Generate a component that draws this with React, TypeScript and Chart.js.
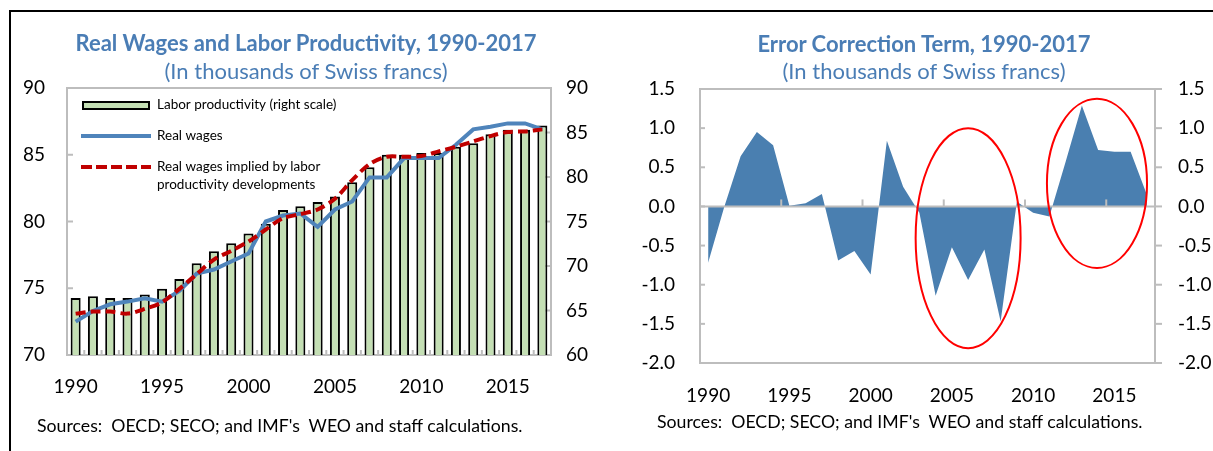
import React, { useEffect, useRef } from "react";
import { Chart, registerables } from "chart.js";

Chart.register(...registerables);

// ---------- data ----------
const YEARS = [
  "1990", "1991", "1992", "1993", "1994", "1995", "1996", "1997", "1998", "1999",
  "2000", "2001", "2002", "2003", "2004", "2005", "2006", "2007", "2008", "2009",
  "2010", "2011", "2012", "2013", "2014", "2015", "2016", "2017",
];
const X_TICK_LABELS = ["1990", "1995", "2000", "2005", "2010", "2015"];

// Left chart
const LABOR_PRODUCTIVITY = [
  66.4, 66.6, 66.4, 66.4, 66.8, 67.45, 68.55, 70.3, 71.65, 72.55,
  73.65, 74.75, 76.3, 76.7, 77.2, 77.8, 79.4, 81.1, 82.5, 82.5,
  82.7, 82.7, 83.4, 83.8, 84.8, 85.3, 85.3, 85.8,
];
const REAL_WAGES = [
  72.5, 73.3, 73.8, 74.0, 74.25, 74.0, 74.8, 76.1, 76.4, 77.0,
  77.6, 80.0, 80.45, 80.6, 79.6, 80.9, 81.5, 83.3, 83.3, 84.75,
  84.75, 84.75, 85.75, 86.9, 87.1, 87.35, 87.35, 86.9,
];
const IMPLIED_WAGES = [
  73.1, 73.25, 73.25, 73.1, 73.45, 73.95, 74.95, 76.05, 77.15, 77.8,
  78.5, 79.4, 80.25, 80.55, 80.9, 81.7, 83.1, 84.3, 84.85, 84.85,
  84.9, 85.25, 85.6, 86.0, 86.4, 86.7, 86.75, 86.9,
];
const LEFT_Y_TICKS = [70, 75, 80, 85, 90];
const RIGHT_Y_TICKS = [60, 65, 70, 75, 80, 85, 90];

// Right chart
const ERROR_TERM = [
  -0.72, 0.0, 0.64, 0.95, 0.78, 0.01, 0.04, 0.16, -0.69, -0.57,
  -0.87, 0.84, 0.25, -0.08, -1.14, -0.52, -0.94, -0.55, -1.47, 0.06,
  -0.08, -0.13, 0.57, 1.29, 0.72, 0.7, 0.7, 0.15,
];
const ERROR_Y_TICKS = [-2.0, -1.5, -1.0, -0.5, 0.0, 0.5, 1.0, 1.5];
// highlight ellipses (centre year, centre value, radius in years, radius in value)
const ELLIPSES = [
  { year: 2006.0, value: -0.405, rYears: 3.23, rValue: 1.405 },
  { year: 2013.93, value: 0.294, rYears: 3.08, rValue: 1.08 },
];

// ---------- styles ----------
const FONT = "Lato, 'Open Sans', sans-serif";
const GRAY = "#bdbdbd";
const TITLE_BLUE = "#4a7db5";
const GREEN = "#c4dfb4";
const LINE_BLUE = "#4f84bb";
const DASH_RED = "#c00000";
const AREA_BLUE = "#4a7fb0";

const LABELS_LEGEND = {
  bars: "Labor productivity (right scale)",
  wages: "Real wages",
  implied: ["Real wages implied by labor", "productivity developments"],
};

function setTicks(values: number[]) {
  return (scale: any) => {
    scale.ticks = values.map((v) => ({ value: v }));
  };
}

const tickFont = { family: FONT, size: 19 };

export default function App() {
  const leftRef = useRef<HTMLCanvasElement>(null);
  const rightRef = useRef<HTMLCanvasElement>(null);

  useEffect(() => {
    const leftFrame = {
      id: "leftFrame",
      beforeDatasetsDraw(chart: any) {
        const { ctx, chartArea: a } = chart;
        ctx.save();
        ctx.strokeStyle = GRAY;
        ctx.lineWidth = 2;
        ctx.strokeRect(a.left, a.top, a.right - a.left, a.bottom - a.top);
        // y ticks inside
        const yl = chart.scales.y;
        LEFT_Y_TICKS.forEach((v) => {
          const p = yl.getPixelForValue(v);
          ctx.beginPath();
          ctx.moveTo(a.left, p);
          ctx.lineTo(a.left + 6, p);
          ctx.stroke();
        });
        const yr = chart.scales.y2;
        RIGHT_Y_TICKS.forEach((v) => {
          const p = yr.getPixelForValue(v);
          ctx.beginPath();
          ctx.moveTo(a.right, p);
          ctx.lineTo(a.right - 7, p);
          ctx.stroke();
        });
        // x ticks between categories
        const xs = chart.scales.x;
        for (let i = 1; i < YEARS.length; i++) {
          const p = xs.getPixelForValue(i - 0.5);
          ctx.beginPath();
          ctx.moveTo(p, a.bottom);
          ctx.lineTo(p, a.bottom - 5);
          ctx.stroke();
        }
        ctx.restore();
      },
      afterDraw(chart: any) {
        const { ctx } = chart;
        ctx.save();
        // bar swatch
        ctx.fillStyle = GREEN;
        ctx.fillRect(83, 102, 66, 7);
        ctx.strokeStyle = "#000";
        ctx.lineWidth = 2;
        ctx.strokeRect(83, 102, 66, 7);
        // blue line
        ctx.strokeStyle = LINE_BLUE;
        ctx.lineWidth = 4;
        ctx.beginPath();
        ctx.moveTo(81, 136);
        ctx.lineTo(151, 136);
        ctx.stroke();
        // red dashed
        ctx.strokeStyle = DASH_RED;
        ctx.setLineDash([11, 4]);
        ctx.beginPath();
        ctx.moveTo(81, 167);
        ctx.lineTo(151, 167);
        ctx.stroke();
        ctx.setLineDash([]);
        ctx.fillStyle = "#000";
        ctx.font = `13.5px ${FONT}`;
        ctx.textBaseline = "middle";
        ctx.textAlign = "left";
        ctx.fillText(LABELS_LEGEND.bars, 157, 105);
        ctx.fillText(LABELS_LEGEND.wages, 157, 136);
        ctx.fillText(LABELS_LEGEND.implied[0], 157, 167);
        ctx.fillText(LABELS_LEGEND.implied[1], 157, 185);
        ctx.restore();
      },
    };

    const c1 = new Chart(leftRef.current as HTMLCanvasElement, {
      type: "bar",
      data: {
        labels: YEARS,
        datasets: [
          {
            type: "line",
            label: "Real wages implied by labor productivity developments",
            data: IMPLIED_WAGES,
            yAxisID: "y",
            borderColor: DASH_RED,
            borderWidth: 4,
            borderDash: [10, 5],
            pointRadius: 0,
            tension: 0.3,
            fill: false,
            order: 0,
          } as any,
          {
            type: "line",
            label: "Real wages",
            data: REAL_WAGES,
            yAxisID: "y",
            borderColor: LINE_BLUE,
            borderWidth: 4,
            pointRadius: 0,
            tension: 0,
            fill: false,
            order: 1,
          } as any,
          {
            type: "bar",
            label: "Labor productivity (right scale)",
            data: LABOR_PRODUCTIVITY,
            yAxisID: "y2",
            backgroundColor: GREEN,
            borderColor: "#000",
            borderWidth: 2,
            borderSkipped: false,
            categoryPercentage: 1,
            barPercentage: 0.58,
            order: 2,
          } as any,
        ],
      },
      options: {
        responsive: false,
        animation: false,
        layout: { padding: { top: 88, left: 0, right: 0, bottom: 0 } },
        plugins: { legend: { display: false }, tooltip: { enabled: false }, title: { display: false } },
        scales: {
          x: {
            type: "category",
            offset: true,
            grid: { display: false, drawTicks: false },
            border: { display: false },
            ticks: {
              autoSkip: false,
              maxRotation: 0,
              minRotation: 0,
              padding: 20,
              color: "#000",
              font: tickFont,
              callback: (_v: any, i: number) => (X_TICK_LABELS.includes(YEARS[i]) ? YEARS[i] : ""),
            },
            afterFit: (s: any) => {
              s.height = 451 - 355;
            },
          },
          y: {
            position: "left",
            min: 70,
            max: 90,
            grid: { display: false, drawTicks: false },
            border: { display: false },
            ticks: { padding: 22, color: "#000", font: tickFont },
            afterBuildTicks: setTicks(LEFT_Y_TICKS),
            afterFit: (s: any) => {
              s.width = 67;
            },
          },
          y2: {
            position: "right",
            min: 60,
            max: 90,
            grid: { display: false, drawTicks: false },
            border: { display: false },
            ticks: { padding: 15, color: "#000", font: tickFont },
            afterBuildTicks: setTicks(RIGHT_Y_TICKS),
            afterFit: (s: any) => {
              s.width = 600 - 551;
            },
          },
        },
      } as any,
      plugins: [leftFrame],
    });

    const rightFrame = {
      id: "rightFrame",
      beforeDatasetsDraw(chart: any) {
        const { ctx, chartArea: a } = chart;
        ctx.save();
        ctx.strokeStyle = GRAY;
        ctx.lineWidth = 2;
        ctx.strokeRect(a.left, a.top, a.right - a.left, a.bottom - a.top);
        const yl = chart.scales.y;
        ERROR_Y_TICKS.forEach((v) => {
          const p = yl.getPixelForValue(v);
          ctx.beginPath();
          ctx.moveTo(a.left, p);
          ctx.lineTo(a.left + 5, p);
          ctx.stroke();
          ctx.beginPath();
          ctx.moveTo(a.right, p);
          ctx.lineTo(a.right + 7, p);
          ctx.stroke();
        });
        ctx.restore();
      },
      afterDatasetsDraw(chart: any) {
        const { ctx, chartArea: a } = chart;
        const xs = chart.scales.x;
        const ys = chart.scales.y;
        const y0 = ys.getPixelForValue(0);
        ctx.save();
        ctx.strokeStyle = GRAY;
        ctx.lineWidth = 2;
        ctx.beginPath();
        ctx.moveTo(a.left, y0);
        ctx.lineTo(a.right, y0);
        ctx.stroke();
        YEARS.forEach((yr, i) => {
          if (i > 0 && X_TICK_LABELS.includes(yr)) {
            const p = xs.getPixelForValue(i - 0.5);
            ctx.beginPath();
            ctx.moveTo(p, y0);
            ctx.lineTo(p, y0 - 7);
            ctx.stroke();
          }
        });
        // ellipses
        ctx.strokeStyle = "#ff0000";
        ctx.lineWidth = 2;
        const base = Number(YEARS[0]);
        ELLIPSES.forEach((e) => {
          const cx = xs.getPixelForValue(e.year - base);
          const rx = Math.abs(xs.getPixelForValue(e.year - base + e.rYears) - cx);
          const cy = ys.getPixelForValue(e.value);
          const ry = Math.abs(ys.getPixelForValue(e.value + e.rValue) - cy);
          ctx.beginPath();
          ctx.ellipse(cx, cy, rx, ry, 0, 0, Math.PI * 2);
          ctx.stroke();
        });
        ctx.restore();
      },
    };

    const c2 = new Chart(rightRef.current as HTMLCanvasElement, {
      type: "line",
      data: {
        labels: YEARS,
        datasets: [
          {
            label: "Error correction term",
            data: ERROR_TERM,
            yAxisID: "y",
            backgroundColor: AREA_BLUE,
            borderColor: AREA_BLUE,
            borderWidth: 0,
            pointRadius: 0,
            tension: 0,
            fill: "origin",
          } as any,
        ],
      },
      options: {
        responsive: false,
        animation: false,
        layout: { padding: { top: 89, left: 0, right: 0, bottom: 0 } },
        plugins: { legend: { display: false }, tooltip: { enabled: false }, title: { display: false } },
        scales: {
          x: {
            type: "category",
            offset: true,
            grid: { display: false, drawTicks: false },
            border: { display: false },
            ticks: {
              autoSkip: false,
              maxRotation: 0,
              minRotation: 0,
              padding: 21,
              color: "#000",
              font: tickFont,
              callback: (_v: any, i: number) => (X_TICK_LABELS.includes(YEARS[i]) ? YEARS[i] : ""),
            },
            afterFit: (s: any) => {
              s.height = 451 - 363;
            },
          },
          y: {
            position: "left",
            min: -2,
            max: 1.5,
            grid: { display: false, drawTicks: false },
            border: { display: false },
            ticks: { padding: 25, color: "#000", font: tickFont, callback: (v: any) => Number(v).toFixed(1) },
            afterBuildTicks: setTicks(ERROR_Y_TICKS),
            afterFit: (s: any) => {
              s.width = 100;
            },
          },
          y2: {
            position: "right",
            min: -2,
            max: 1.5,
            grid: { display: false, drawTicks: false },
            border: { display: false },
            ticks: { padding: 23, color: "#000", font: tickFont, callback: (v: any) => Number(v).toFixed(1) },
            afterBuildTicks: setTicks(ERROR_Y_TICKS),
            afterFit: (s: any) => {
              s.width = 613 - 555;
            },
          },
        },
      } as any,
      plugins: [rightFrame],
    });

    return () => {
      c1.destroy();
      c2.destroy();
    };
  }, []);

  const titleStyle: React.CSSProperties = {
    position: "absolute",
    width: 600,
    textAlign: "center",
    color: TITLE_BLUE,
    fontFamily: FONT,
    fontWeight: 700,
    fontSize: 22,
    lineHeight: "24px",
    whiteSpace: "nowrap",
  };
  const subStyle: React.CSSProperties = { ...titleStyle, fontWeight: 400 };
  const srcStyle: React.CSSProperties = {
    position: "absolute",
    color: "#000",
    fontFamily: FONT,
    fontSize: 17.7,
    lineHeight: "22px",
    whiteSpace: "pre",
  };

  return (
    <div style={{ position: "absolute", left: 0, top: 0, width: 1213, height: 451, overflow: "hidden", background: "#fff" }}>
      <div
        style={{
          position: "absolute",
          left: 9,
          top: 10,
          width: 1204,
          height: 441,
          borderTop: "2px solid #000",
          borderLeft: "2px solid #000",
          boxSizing: "border-box",
        }}
      />
      <canvas ref={leftRef} width={600} height={451} style={{ position: "absolute", left: 0, top: 0 }} />
      <canvas ref={rightRef} width={613} height={451} style={{ position: "absolute", left: 600, top: 0 }} />
      <div style={{ ...titleStyle, left: 306 - 300, top: 31 }}>Real Wages and Labor Productivity, 1990-2017</div>
      <div style={{ ...subStyle, left: 306 - 300, top: 59 }}>(In thousands of Swiss francs)</div>
      <div style={{ ...titleStyle, left: 924 - 300, top: 32 }}>Error Correction Term, 1990-2017</div>
      <div style={{ ...subStyle, left: 924 - 300, top: 59 }}>(In thousands of Swiss francs)</div>
      <div style={{ ...srcStyle, left: 37, top: 415 }}>{"Sources:  OECD; SECO; and IMF's  WEO and staff calculations."}</div>
      <div style={{ ...srcStyle, left: 657, top: 411 }}>{"Sources:  OECD; SECO; and IMF's  WEO and staff calculations."}</div>
    </div>
  );
}
